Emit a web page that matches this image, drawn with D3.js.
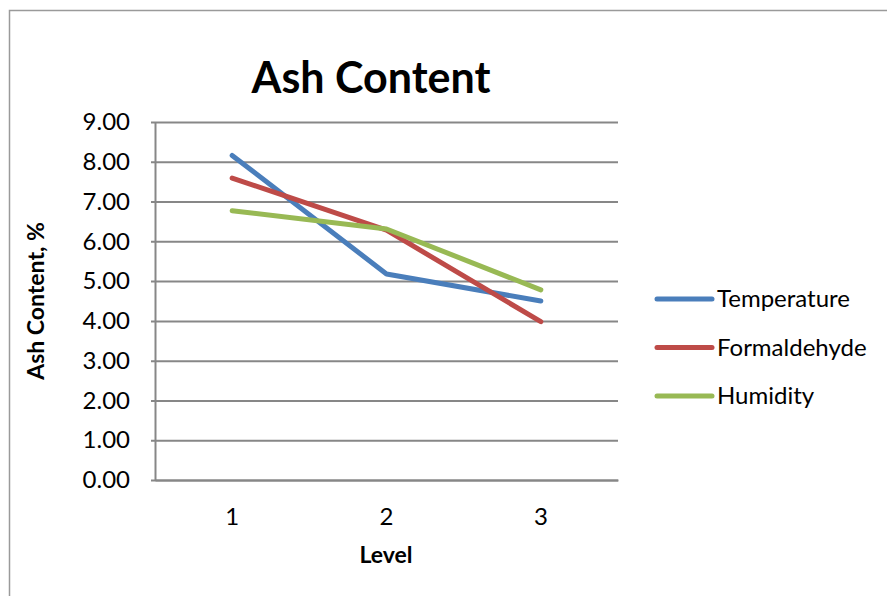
<!DOCTYPE html>
<html>
<head>
<meta charset="utf-8">
<script src="https://cdn.jsdelivr.net/npm/d3@7"></script>
<style>
  html, body { margin: 0; padding: 0; background: #ffffff; }
  svg { display: block; }
</style>
</head>
<body>
<svg id="chart" width="887" height="596"></svg>
<script>
// Levels along the x axis
const levels = ["1", "2", "3"];

// Ash content (%) per factor at each level
const temperature  = [8.16, 5.18, 4.50];
const formaldehyde = [7.59, 6.28, 3.98];
const humidity     = [6.77, 6.31, 4.78];

const seriesNames  = ["Temperature", "Formaldehyde", "Humidity"];
const seriesColors = ["#4a7ebb", "#be4b48", "#98b954"];

// Y axis tick values
const yTicks = [0, 1, 2, 3, 4, 5, 6, 7, 8, 9];

const series = [temperature, formaldehyde, humidity].map((vals, i) => ({
  name: seriesNames[i],
  color: seriesColors[i],
  values: vals
}));

const FONT = "Lato, 'Open Sans', sans-serif";
const svg = d3.select("#chart");

// Chart frame
svg.append("rect")
  .attr("x", 9.5).attr("y", 10.5)
  .attr("width", 900).attr("height", 600)
  .attr("fill", "#ffffff")
  .attr("stroke", "#9a9a9a")
  .attr("stroke-width", 1.5);

const plot = { left: 155, right: 618, top: 122, bottom: 480 };

const x = d3.scaleBand()
  .domain(levels)
  .range([plot.left, plot.right]);

const y = d3.scaleLinear()
  .domain([0, 9])
  .range([plot.bottom, plot.top]);

const cx = d => x(d) + x.bandwidth() / 2;

// Horizontal gridlines with small outside ticks
const yAxis = d3.axisLeft(y)
  .tickValues(yTicks)
  .tickFormat(d3.format(".2f"))
  .tickSizeInner(-(plot.right - plot.left))
  .tickSizeOuter(0)
  .tickPadding(25);

const gy = svg.append("g")
  .attr("transform", `translate(${plot.left},0)`)
  .call(yAxis);
gy.select(".domain").attr("stroke", "#878787").attr("stroke-width", 2);
gy.selectAll(".tick line")
  .attr("x1", -4)
  .attr("stroke", "#878787")
  .attr("stroke-width", 2);
gy.selectAll(".tick text")
  .attr("fill", "#000")
  .style("font-family", FONT)
  .style("font-size", "24px");

// Bottom axis: category labels, no tick marks
const xAxis = d3.axisBottom(x).tickSize(0).tickPadding(28);
const gx = svg.append("g")
  .attr("transform", `translate(0,${plot.bottom})`)
  .call(xAxis);
gx.select(".domain").attr("stroke", "#878787").attr("stroke-width", 2);
gx.selectAll(".tick text")
  .attr("fill", "#000")
  .style("font-family", FONT)
  .style("font-size", "24px");

// Data lines
const line = d3.line()
  .x((v, i) => cx(levels[i]))
  .y(v => y(v));

svg.append("g").selectAll("path")
  .data(series)
  .join("path")
  .attr("d", s => line(s.values))
  .attr("fill", "none")
  .attr("stroke", s => s.color)
  .attr("stroke-width", 5)
  .attr("stroke-linecap", "round")
  .attr("stroke-linejoin", "round");

// Title
svg.append("text")
  .attr("x", 371).attr("y", 93)
  .attr("text-anchor", "middle")
  .style("font-family", FONT)
  .style("font-weight", "bold")
  .style("font-size", "43px")
  .text("Ash Content");

// Axis titles
svg.append("text")
  .attr("x", 386).attr("y", 563)
  .attr("text-anchor", "middle")
  .style("font-family", FONT)
  .style("font-weight", "bold")
  .style("font-size", "23px")
  .text("Level");

svg.append("text")
  .attr("transform", "translate(44,301) rotate(-90)")
  .attr("text-anchor", "middle")
  .style("font-family", FONT)
  .style("font-weight", "bold")
  .style("font-size", "23px")
  .text("Ash Content, %");

// Legend
const legendRowY = d3.scalePoint()
  .domain(seriesNames)
  .range([299, 396]);

const lg = svg.append("g").selectAll("g")
  .data(series)
  .join("g")
  .attr("transform", s => `translate(0,${legendRowY(s.name)})`);

lg.append("line")
  .attr("x1", 657).attr("x2", 712)
  .attr("y1", 0).attr("y2", 0)
  .attr("stroke", s => s.color)
  .attr("stroke-width", 5)
  .attr("stroke-linecap", "round");

lg.append("text")
  .attr("x", 717).attr("y", 0)
  .attr("dy", "0.35em")
  .style("font-family", FONT)
  .style("font-size", "24px")
  .attr("fill", "#000")
  .text(s => s.name);
</script>
</body>
</html>
